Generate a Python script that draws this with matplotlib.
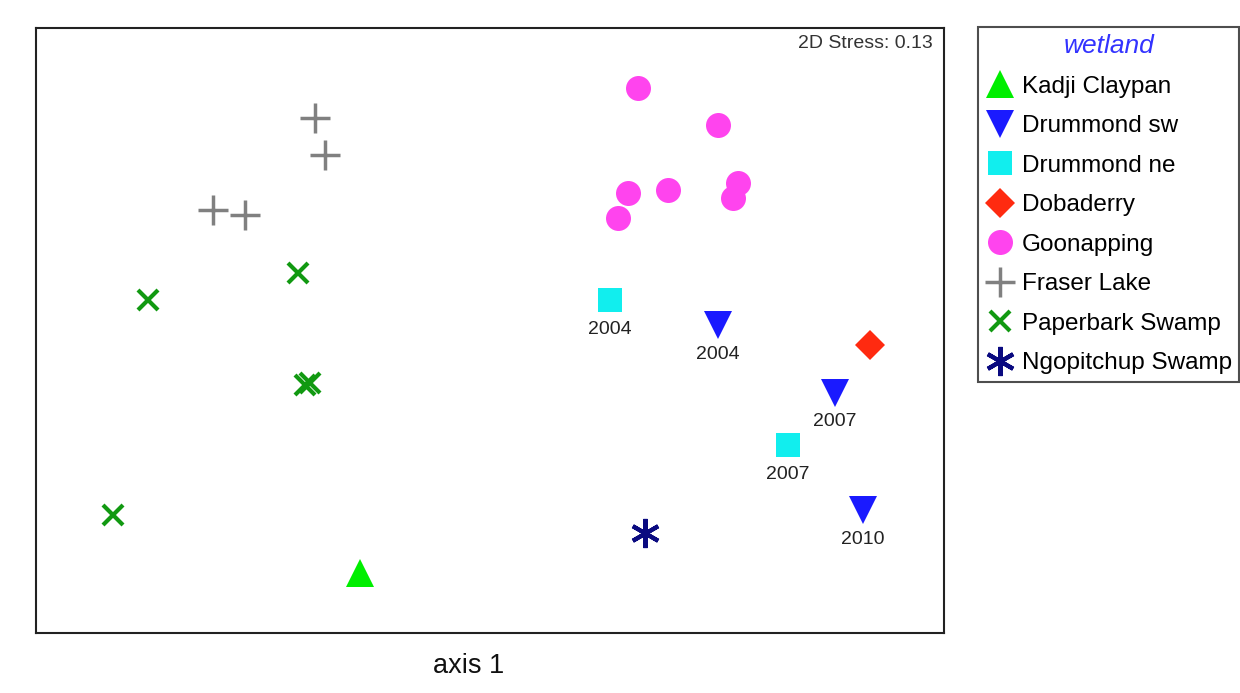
import matplotlib.pyplot as plt

plt.rcParams['font.family'] = ['Liberation Sans', 'DejaVu Sans']

# NMDS scores (axis 1, axis 2)
goonapping_x = [0.59, 0.91, 0.55, 0.71, 0.99, 0.97, 0.51]
goonapping_y = [0.97, 0.82, 0.55, 0.56, 0.59, 0.53, 0.45]
fraser_x = [-0.70, -0.66, -1.11, -0.98]
fraser_y = [0.85, 0.70, 0.48, 0.46]
paperbark_x = [-1.37, -0.77, -0.74, -0.72, -1.51]
paperbark_y = [0.12, 0.23, -0.22, -0.21, -0.74]
kadji_x = [-0.52]
kadji_y = [-0.97]
ngopitchup_x = [0.62]
ngopitchup_y = [-0.81]
drum_ne_x = [0.48, 1.19]
drum_ne_y = [0.12, -0.46]
drum_ne_years = ["2004", "2007"]
drum_sw_x = [0.91, 1.38, 1.49]
drum_sw_y = [0.02, -0.25, -0.72]
drum_sw_years = ["2004", "2007", "2010"]
dobaderry_x = [1.52]
dobaderry_y = [-0.06]

fig = plt.figure(figsize=(12.4, 6.93), dpi=100)
ax = fig.add_axes([36/1240, 60/693, 908/1240, 605/693])

groups = [
    ("Kadji Claypan", kadji_x, kadji_y, '^', '#00ee00', 20, 0),
    ("Drummond sw", drum_sw_x, drum_sw_y, 'v', '#1a1aff', 20, 0),
    ("Drummond ne", drum_ne_x, drum_ne_y, 's', '#11eeee', 17, 0),
    ("Dobaderry", dobaderry_x, dobaderry_y, 'D', '#ff2a10', 15, 0),
    ("Goonapping", goonapping_x, goonapping_y, 'o', '#ff44ee', 18, 0),
    ("Fraser Lake", fraser_x, fraser_y, '+', '#808080', 22, 2.5),
    ("Paperbark Swamp", paperbark_x, paperbark_y, 'x', '#119911', 15, 3),
    ("Ngopitchup Swamp", ngopitchup_x, ngopitchup_y, (6, 2, 0), '#0a0a80', 21, 3),
]

for name, xs, ys, m, c, s, lw in groups:
    ax.plot(xs, ys, linestyle='none', marker=m, color=c, markersize=s,
            markeredgewidth=lw, label=name)

# year labels under the Drummond samples
for x, y, t in zip(drum_ne_x + drum_sw_x, drum_ne_y + drum_sw_y,
                   drum_ne_years + drum_sw_years):
    ax.annotate(t, (x, y), xytext=(0, -21), textcoords='offset points',
                ha='center', va='center', fontsize=14, color='#222222')

ax.set_xlim(-1.816, 1.816)
ax.set_ylim(-1.212, 1.208)
ax.set_xticks([])
ax.set_yticks([])
for sp in ax.spines.values():
    sp.set_linewidth(1.5)
    sp.set_color('#222222')

ax.text(0.988, 0.988, "2D Stress: 0.13", transform=ax.transAxes,
        ha='right', va='top', fontsize=14, color='#333333')
fig.text(469/1240, 1 - 666/693, "axis 1", ha='center', va='center',
         fontsize=19.5, color='#111111')

leg = ax.legend(loc='upper left', bbox_to_anchor=(978/1240, 1 - 27/693),
                bbox_transform=fig.transFigure, frameon=True, fancybox=False,
                fontsize=17.5, title="wetland", handletextpad=0.3,
                handlelength=1.2, labelspacing=0.72, borderpad=0.3,
                borderaxespad=0)
leg.get_title().set_color('#3333ff')
leg.get_title().set_fontstyle('italic')
leg.get_title().set_fontsize(19)
leg.get_frame().set_edgecolor('#222222')
leg.get_frame().set_linewidth(1.5)

plt.savefig('out.png', dpi=100)
